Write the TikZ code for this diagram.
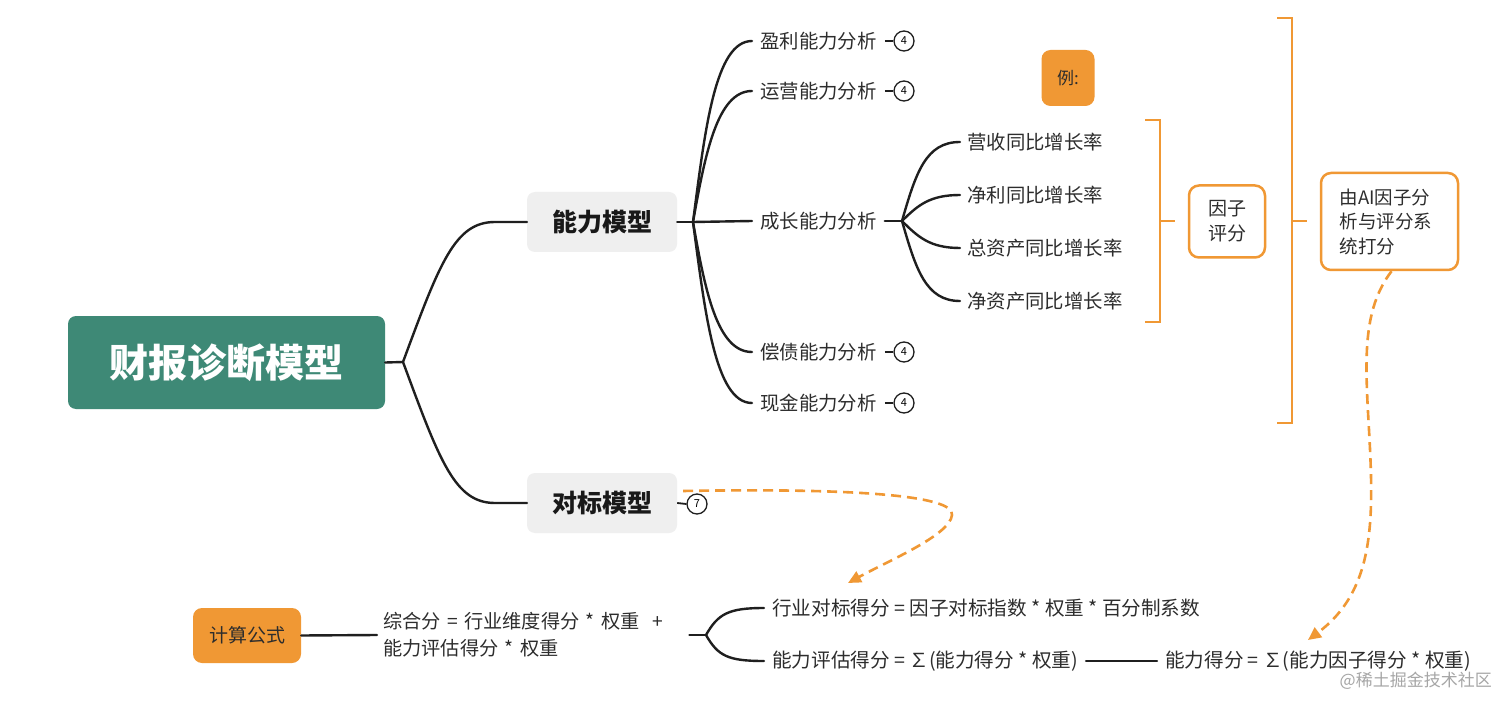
\documentclass[tikz,border=0pt]{standalone}
\usepackage{fontspec}
\setmainfont{Noto Sans CJK SC}
\usetikzlibrary{arrows.meta}
\definecolor{rootgreen}{RGB}{62,137,118}
\definecolor{boxgray}{RGB}{239,239,239}
\definecolor{accent}{RGB}{240,152,52}
\definecolor{txt}{RGB}{45,45,45}
\begin{document}
\begin{tikzpicture}[x=1pt,y=-1pt,
  conn/.style={line width=2.4pt, black!88, line cap=round},
  thinconn/.style={line width=1.8pt, black!88},
  leaf/.style={anchor=west, inner xsep=8pt, inner ysep=2pt, font=\fontsize{19.4}{22}\selectfont, text=txt},
  sub/.style={rounded corners=8pt, fill=boxgray, minimum width=150pt, minimum height=60pt, inner sep=0pt, font=\fontsize{25}{28}\selectfont\bfseries, text=black!90},
  badge/.style={circle, draw=black!88, line width=1.3pt, minimum size=20pt, inner sep=0pt, font=\fontsize{11}{11}\selectfont},
  bracketline/.style={line width=2.8pt, accent},
  obox/.style={rounded corners=10pt, draw=accent, line width=2.5pt, fill=white, inner sep=0pt, text=txt},
  fbox/.style={rounded corners=9pt, fill=accent, inner sep=0pt, text=txt},
  fml/.style={anchor=west, inner xsep=8pt, inner ysep=2pt, font=\fontsize{19.6}{22}\selectfont, text=txt},
  dasharrow/.style={line width=2.6pt, accent, dash pattern=on 10pt off 6pt, -{Triangle[length=13pt,width=12pt]}}
]
\useasboundingbox (0,0) rectangle (1512,711);
\fill[white] (0,0) rectangle (1512,711);

% root
\node[rounded corners=8pt, fill=rootgreen, minimum width=317pt, minimum height=93pt, inner sep=0pt,
  text=white, font=\fontsize{39}{42}\selectfont\bfseries] (root) at (226.5,362.5) {财报诊断模型};
\coordinate (j0) at (403,362);

% level 1
\node[sub] (ability) at (602,222) {能力模型};
\node[sub] (bench) at (602,503) {对标模型};

\draw[conn] (root.east) -- (j0);
\draw[conn] (j0) .. controls (440,262) and (455,222) .. (495,222) -- (ability.west);
\draw[conn] (j0) .. controls (440,462) and (455,503) .. (495,503) -- (bench.west);

% level 2
\coordinate (j1) at (693,222);
\node[leaf] (p1) at (752,41) {盈利能力分析};
\node[leaf] (p2) at (752,91) {运营能力分析};
\node[leaf] (p3) at (752,221) {成长能力分析};
\node[leaf] (p4) at (752,352) {偿债能力分析};
\node[leaf] (p5) at (752,403) {现金能力分析};

\draw[conn] (ability.east) -- (j1);
\draw[conn] (j1) .. controls (705,130) and (715,41) .. (p1.west);
\draw[conn] (j1) .. controls (705,155) and (717,91) .. (p2.west);
\draw[conn] (j1) -- (p3.west);
\draw[conn] (j1) .. controls (705,290) and (717,352) .. (p4.west);
\draw[conn] (j1) .. controls (705,312) and (715,403) .. (p5.west);

% badges
\node[badge] (b1) at (904,41) {4};
\node[badge] (b2) at (904,91) {4};
\node[badge] (b4) at (904,352) {4};
\node[badge] (b5) at (904,403) {4};
\draw[thinconn] (p1.east) -- (b1.west);
\draw[thinconn] (p2.east) -- (b2.west);
\draw[thinconn] (p4.east) -- (b4.west);
\draw[thinconn] (p5.east) -- (b5.west);

% level 3
\coordinate (j2) at (902,221);
\node[leaf, inner xsep=7pt] (g1) at (960,142) {营收同比增长率};
\node[leaf, inner xsep=7pt] (g2) at (960,195) {净利同比增长率};
\node[leaf, inner xsep=7pt] (g3) at (960,248) {总资产同比增长率};
\node[leaf, inner xsep=7pt] (g4) at (960,301) {净资产同比增长率};
\draw[conn] (p3.east) -- (j2);
\draw[conn] (j2) .. controls (916,172) and (926,142) .. (g1.west);
\draw[conn] (j2) .. controls (918,205) and (930,195) .. (g2.west);
\draw[conn] (j2) .. controls (918,237) and (930,248) .. (g3.west);
\draw[conn] (j2) .. controls (916,270) and (926,301) .. (g4.west);

% example box
\node[fbox, minimum width=53pt, minimum height=56pt, font=\fontsize{17}{20}\selectfont] (ex) at (1068,78) {例:};

% brackets
\draw[bracketline] (1145,120) -- (1160,120) -- (1160,322) -- (1145,322);
\coordinate (k1) at (1175,221);
\draw[bracketline] (1160,221) -- (k1);
\node[obox, minimum width=76pt, minimum height=72pt, align=center, font=\fontsize{19}{25}\selectfont] (factor) at (1227,221.5) {因子\\评分};

\draw[bracketline] (1277,18) -- (1292,18) -- (1292,423) -- (1277,423);
\coordinate (k2) at (1307,221);
\draw[bracketline] (1292,221) -- (k2);
\node[obox, minimum width=137pt, minimum height=97pt, text width=100pt, align=left, font=\fontsize{18.5}{24.5}\selectfont] (ai) at (1389.5,221.5) {由AI因子分\\析与评分系\\统打分};

% formula area
\node[fbox, minimum width=108pt, minimum height=55pt, font=\fontsize{19}{22}\selectfont] (calc) at (247,635.5) {计算公式};
\node[anchor=west, inner xsep=6pt, inner ysep=2pt, text width=300pt, align=left, text=txt, font=\fontsize{19.2}{27}\selectfont] (formula) at (377,635) {综合分 = 行业维度得分 * 权重 \ +\\能力评估得分 * 权重};
\draw[conn] (calc.east) -- (formula.west);
\coordinate (j3) at (706,635);
\draw[conn] (formula.east) -- (j3);
\node[fml] (f1) at (764,608) {行业对标得分 = 因子对标指数 * 权重 * 百分制系数};
\node[fml] (f2) at (764,661) {能力评估得分 = ∑(能力得分 * 权重)};
\node[fml] (f3) at (1157,661) {能力得分 = ∑(能力因子得分 * 权重)};
\draw[conn] (j3) .. controls (718,614) and (728,608) .. (f1.west);
\draw[conn] (j3) .. controls (718,656) and (728,661) .. (f2.west);
\draw[conn] (f2.east) -- (f3.west);

% badge on bench
\node[badge] (b7) at (697,504) {7};
\draw[thinconn] (bench.east) -- (b7.west);

% dashed arrows
\coordinate (t1) at (848,583);
\draw[dasharrow] ([shift={(6,-12)}]bench.east) .. controls (850,488) and (955,495) .. (952,515)
   .. controls (950,535) and (890,560) .. (t1);
\coordinate (t2) at (1308,640);
\draw[dasharrow] ([xshift=2pt]ai.south) .. controls (1362,310) and (1365,360) .. (1369,430)
   .. controls (1374,520) and (1375,590) .. (t2);

% watermark
\node[anchor=east, inner sep=0pt, text=black!35, font=\fontsize{17}{17}\selectfont] (wm) at (1492,681) {@稀土掘金技术社区};
\end{tikzpicture}
\end{document}
